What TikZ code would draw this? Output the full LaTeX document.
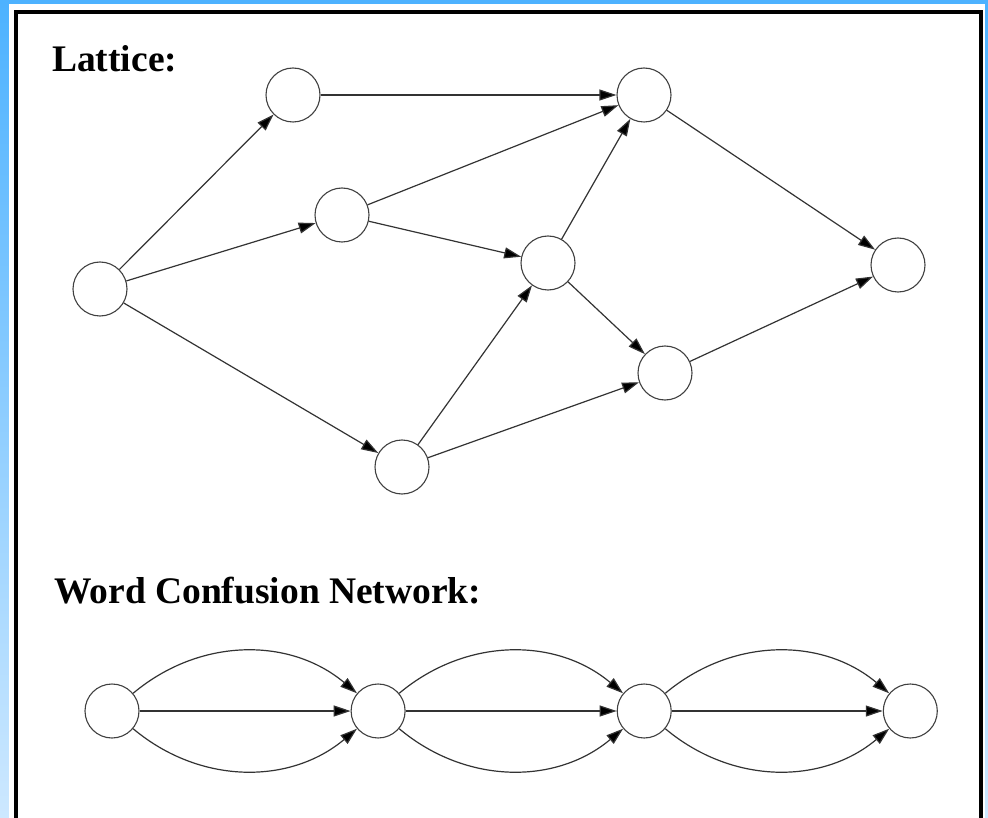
\documentclass[tikz,border=0pt]{standalone}
\usepackage{fontspec}
\setmainfont{Liberation Serif}
\usetikzlibrary{arrows.meta, positioning, backgrounds}

\definecolor{slidetop}{RGB}{77,178,255}
\definecolor{slidebottom}{RGB}{205,232,255}

\begin{document}
\begin{tikzpicture}[
    x=1pt, y=-1pt,
    % Node styles
    state/.style={
        circle, draw=black!75, line width=1.1pt, fill=white,
        minimum size=54pt, inner sep=0pt
    },
    heading/.style={
        anchor=base west, inner sep=0pt, text=black,
        font=\fontsize{37.5}{40}\selectfont\bfseries
    },
    arrow/.style={
        -{Triangle[length=17pt, width=11pt, fill=black]}, line width=1.2pt, black!80
    },
    frame/.style={
        line width=4pt, black
    }
]

\useasboundingbox (0,0) rectangle (988,818);

% --- Slide background and frame ---
\shade[top color=slidetop, bottom color=slidebottom] (0,0) rectangle (988,818);
\fill[white] (9,4) rectangle (985,818);
\draw[frame] (15.5,818) -- (15.5,12) -- (980.5,12) -- (980.5,818);

% --- Headings ---
\node[heading] (latticelabel) at (52,72) {Lattice:};
\node[heading] (wcnlabel) at (54,603) {Word Confusion Network:};

% --- Lattice nodes ---
\node[state] (l0) at (100,289) {};
\node[state] (l1) at (293,95) {};
\node[state] (l2) at (342,215) {};
\node[state] (l3) at (402,467) {};
\node[state] (l4) at (548,263) {};
\node[state] (l5) at (644,95) {};
\node[state] (l6) at (665,373) {};
\node[state] (l7) at (898,265) {};

% --- Lattice arrows ---
\draw[arrow] (l0) -- (l1);
\draw[arrow] (l0) -- (l2);
\draw[arrow] (l0) -- (l3);
\draw[arrow] (l1) -- (l5);
\draw[arrow] (l2) -- (l5);
\draw[arrow] (l2) -- (l4);
\draw[arrow] (l3) -- (l4);
\draw[arrow] (l3) -- (l6);
\draw[arrow] (l4) -- (l5);
\draw[arrow] (l4) -- (l6);
\draw[arrow] (l5) -- (l7);
\draw[arrow] (l6) -- (l7);

% --- Confusion network nodes ---
\node[state] (w1) at (112,711) {};
\node[state, right=211pt of w1] (w2) {};
\node[state, right=211pt of w2] (w3) {};
\node[state, right=211pt of w3] (w4) {};

% --- Confusion network arrows ---
\draw[arrow] (w1) -- (w2);
\draw[arrow] (w1) to[bend left=40] (w2);
\draw[arrow] (w1) to[bend right=40] (w2);

\draw[arrow] (w2) -- (w3);
\draw[arrow] (w2) to[bend left=40] (w3);
\draw[arrow] (w2) to[bend right=40] (w3);

\draw[arrow] (w3) -- (w4);
\draw[arrow] (w3) to[bend left=40] (w4);
\draw[arrow] (w3) to[bend right=40] (w4);

\end{tikzpicture}
\end{document}
